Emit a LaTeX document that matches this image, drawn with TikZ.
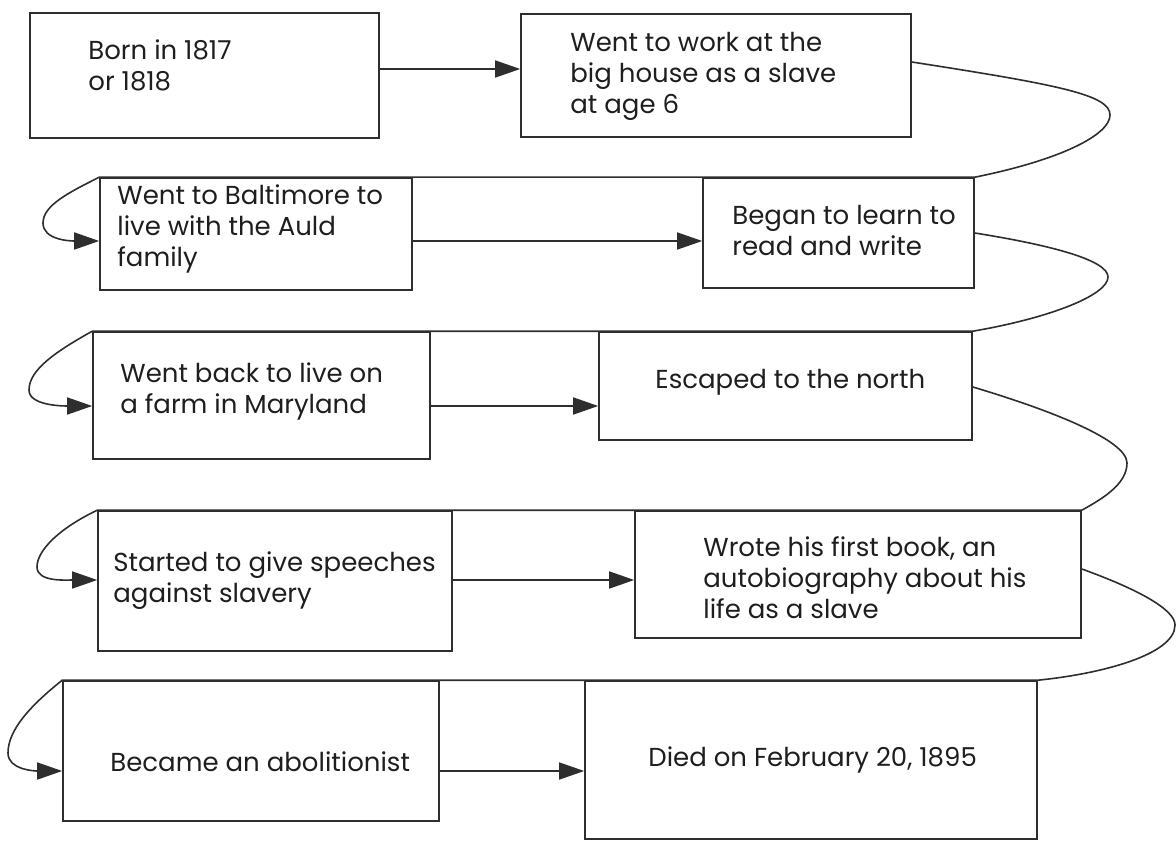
\documentclass[tikz,border=0pt]{standalone}
\usepackage{fontspec}
\setmainfont{Poppins}
\usetikzlibrary{arrows.meta,fit}
\definecolor{ink}{HTML}{2E2E2E}
\definecolor{textc}{HTML}{1E1E1E}
\begin{document}
\begin{tikzpicture}[x=0.5pt,y=-0.5pt,
  box/.style={draw=ink, line width=0.8pt, inner sep=0pt},
  txt/.style={anchor=west, align=left, text=textc, inner sep=0pt,
    font=\fontsize{13}{15.5}\selectfont},
  link/.style={draw=ink, line width=0.8pt},
  arr/.style={link, -{Triangle[length=12.5pt,width=8.5pt,fill=ink]}},
]
\useasboundingbox (0,0) rectangle (1176,850);

% timeline boxes
\node[box, fit={(30,13) (379,138)}]   (A) {};
\node[box, fit={(521,14) (911,137)}]  (B) {};
\node[box, fit={(100,178) (412,290)}] (C) {};
\node[box, fit={(703,178) (974,288)}] (D) {};
\node[box, fit={(93,332) (430,459)}]  (E) {};
\node[box, fit={(599,332) (972,440)}] (F) {};
\node[box, fit={(98,511) (452,651)}]  (G) {};
\node[box, fit={(635,511) (1081,638)}] (H) {};
\node[box, fit={(63,681) (439,821)}]  (I) {};
\node[box, fit={(585,681) (1037,839)}] (J) {};

% box texts
\node[txt] (tA) at (88,65)  {Born in 1817\\or 1818};
\node[txt] (tB) at (570,76) {Went to work at the\\big house as a slave\\at age 6};
\node[txt] (tC) at (117,229) {Went to Baltimore to\\live with the Auld\\family};
\node[txt] (tD) at (732,230) {Began to learn to\\read and write};
\node[txt] (tE) at (120,391) {Went back to live on\\a farm in Maryland};
\node[txt] (tF) at (655,382) {Escaped to the north};
\node[txt] (tG) at (113,581) {Started to give speeches\\against slavery};
\node[txt] (tH) at (703,578) {Wrote his first book, an\\autobiography about his\\life as a slave};
\node[txt] (tI) at (110,762) {Became an abolitionist};
\node[txt] (tJ) at (648,760) {Died on February 20, 1895};

% arrows within each row
\draw[arr] (A.east |- 0,69)  -- (B.west |- 0,69);
\draw[arr] (C.east |- 0,241) -- (D.west |- 0,241);
\draw[arr] (E.east |- 0,406) -- (F.west |- 0,406);
\draw[arr] (G.east |- 0,580) -- (H.west |- 0,580);
\draw[arr] (I.east |- 0,771) -- (J.west |- 0,771);

% winding connectors from one row to the next
\draw[arr] (B.east |- 0,62) .. controls (1060,85) and (1110,95) .. (1110,115)
  .. controls (1110,135) and (1060,160) .. (D.north east) -- (C.north west)
  .. controls (70,192) and (43,205) .. (43,223)
  .. controls (43,240) and (70,241) .. (C.west |- 0,241);

\draw[arr] (D.east |- 0,233) .. controls (1050,245) and (1108,260) .. (1108,277)
  .. controls (1108,295) and (1050,318) .. (F.north east) -- (E.north west)
  .. controls (55,352) and (29,370) .. (29,390)
  .. controls (29,405) and (60,406) .. (E.west |- 0,406);

\draw[arr] (F.east |- 0,387) .. controls (1050,410) and (1127,440) .. (1127,463)
  .. controls (1127,485) and (1100,500) .. (H.north east) -- (G.north west)
  .. controls (60,528) and (37,550) .. (37,567)
  .. controls (37,582) and (65,580) .. (G.west |- 0,580);

\draw[arr] (H.east |- 0,569) .. controls (1140,590) and (1175,610) .. (1175,625)
  .. controls (1175,655) and (1100,674) .. (J.north east) -- (I.north west)
  .. controls (30,706) and (8,730) .. (8,753)
  .. controls (8,770) and (35,771) .. (I.west |- 0,771);
\end{tikzpicture}
\end{document}
